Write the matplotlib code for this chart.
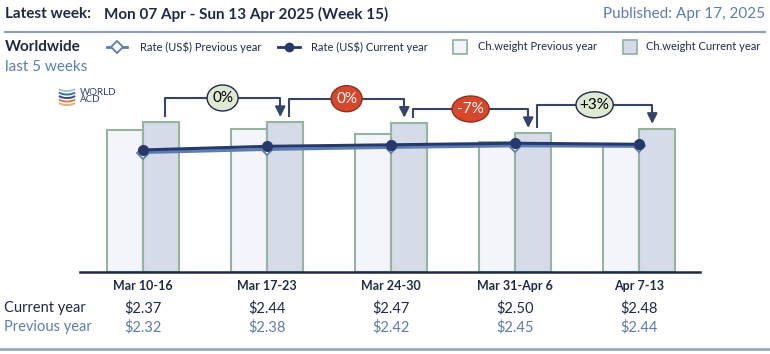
import numpy as np
import matplotlib
matplotlib.use("Agg")
import matplotlib.pyplot as plt
from matplotlib.patches import Rectangle, Arc, Ellipse

plt.rcParams['font.family'] = ['Lato', 'DejaVu Sans']

# --------- Datos ---------

weeks = ["Mar 10-16", "Mar 17-23", "Mar 24-30", "Mar 31-Apr 6", "Apr 7-13"]
rate_current = [2.37, 2.44, 2.47, 2.50, 2.48]
rate_previous = [2.32, 2.38, 2.42, 2.45, 2.44]
# chargeable weight (index)
weight_previous = [142, 143, 138, 130, 128]
weight_current = [150, 150, 149.3, 139, 143.2]
# week on week change of current chargeable weight (%)
wow_change = [0.1, -0.4, -6.6, 3.0]

title_left = "Latest week:"
title_week = "Mon 07 Apr - Sun 13 Apr 2025 (Week 15)"
published = "Published: Apr 17, 2025"

# --------- Colores ---------
navy = "#1f2a48"
lightblue = "#5b7db3"
bar_edge = "#93b5a0"
prev_fill = "#f4f5fa"
cur_fill = "#d5dbe7"
bracket_col = "#33456b"

W, H = 770, 354
fig = plt.figure(figsize=(W / 100, H / 100), dpi=100)

# capa en pixeles para textos y decoracion
over = fig.add_axes([0, 0, 1, 1])
over.set_xlim(0, W)
over.set_ylim(H, 0)
over.axis("off")

over.text(5, 14, title_left, fontsize=11, fontweight="bold", color=navy, va="center")
over.text(104, 14, title_week, fontsize=11, fontweight="bold", color=navy, va="center")
over.text(765, 14, published, fontsize=11, color=lightblue, va="center", ha="right")
over.plot([5, 765], [32, 32], color="#8d9bb3", lw=1.5)
over.plot([0, 770], [349, 349], color="#9aa8c4", lw=2)

over.text(5, 47, "Worldwide", fontsize=11, fontweight="bold", color=navy, va="center")
over.text(5, 67, "last 5 weeks", fontsize=11, color=lightblue, va="center")

# leyenda
lfs = 8
over.plot([107, 127], [47, 47], color=lightblue, lw=2)
over.plot([117], [47], marker="D", ms=6, mfc="white", mec=lightblue, mew=1.3)
over.text(140, 47, "Rate (US$) Previous year", fontsize=lfs, color=navy, va="center")
over.plot([278, 300], [47, 47], color="#26396a", lw=2)
over.plot([289], [47], marker="o", ms=6, color="#26396a")
over.text(311, 47, "Rate (US$) Current year", fontsize=lfs, color=navy, va="center")
over.add_patch(Rectangle((453, 40), 14, 14, fc=prev_fill, ec=bar_edge, lw=1.3))
over.text(478, 47, "Ch.weight Previous year", fontsize=lfs, color=navy, va="center")
over.add_patch(Rectangle((623, 40), 14, 14, fc=cur_fill, ec=bar_edge, lw=1.3))
over.text(646, 47, "Ch.weight Current year", fontsize=lfs, color=navy, va="center")

# logo
for yc, c in zip([90, 93.5, 97, 100.5, 104], ["#a9c2e2", "#3a6fb0", "#2f4f86", "#e07a3a", "#d8b08a"]):
    over.add_patch(Arc((67, yc - 4), 20, 10, theta1=20, theta2=160, color=c, lw=1.4))
over.text(80, 96, "WORLD\nACD", fontsize=7, color="#2f3f6a", va="center", linespacing=0.85)

# --------- Grafico ---------
x = np.arange(len(weeks))
bw = 0.29
ax = fig.add_axes([80 / W, (H - 272) / H, 620 / W, 192 / H])
ax.patch.set_visible(False)
ax.bar(x - bw / 2, weight_previous, width=bw, color=prev_fill, edgecolor=bar_edge, lw=1.5)
ax.bar(x + bw / 2, weight_current, width=bw, color=cur_fill, edgecolor=bar_edge, lw=1.5)
ax.set_xlim(-0.51, 4.49)
ax.set_ylim(0, 192)
for s in ["top", "right", "left"]:
    ax.spines[s].set_visible(False)
ax.spines["bottom"].set_color(navy)
ax.spines["bottom"].set_linewidth(1.8)
ax.set_yticks([])
ax.set_xticks(x)
ax.set_xticklabels(weeks, fontsize=9, fontweight="bold", color=navy)
ax.tick_params(axis="x", length=0, pad=6)

# corchetes de variacion semanal
for i, v in enumerate(wow_change):
    x0 = x[i] + bw / 2 + 0.03
    x1 = x[i + 1] + bw / 2 - 0.04
    top = weight_current[i + 1] + 24
    ax.plot([x0, x0, x1, x1], [weight_current[i] + 5, top, top, weight_current[i + 1] + 14],
            color=bracket_col, lw=1.5, solid_capstyle="butt")
    ax.annotate("", xy=(x1, weight_current[i + 1] + 5), xytext=(x1, weight_current[i + 1] + 15),
                arrowprops=dict(arrowstyle="-|>,head_width=0.3,head_length=0.6",
                                color=bracket_col, lw=1.5, shrinkA=0, shrinkB=0))
    lab = "0%" if round(v) == 0 else f"{v:+.0f}%"
    neg = v < 0
    xm = (x0 + x1) / 2
    ax.add_patch(Ellipse((xm, top), 0.25 + 0.05 * (len(lab) - 2), 26,
                         fc="#d9472b" if neg else "#dde9d2",
                         ec="#8a3020" if neg else navy, lw=1, zorder=3))
    ax.text(xm, top, lab, fontsize=11, ha="center", va="center", zorder=4,
            color="white" if neg else "black")

ax2 = ax.twinx()
ax2.set_ylim(0, 192 / 51.5)
ax2.axis("off")
ax2.plot(x, rate_previous, color=lightblue, lw=2.2, marker="D", ms=6, mfc="white", mec=lightblue, mew=1.3)
ax2.plot(x, rate_current, color="#26396a", lw=2.2, marker="o", ms=7)

# tabla de tarifas
tr = ax.get_xaxis_transform()
ax.text(-0.505 - 77 / 124, -0.1875, "Current year", transform=tr, fontsize=10.5, color=navy, va="center")
ax.text(-0.505 - 77 / 124, -0.286, "Previous year", transform=tr, fontsize=10.5, color=lightblue, va="center")
for i in range(len(weeks)):
    ax.text(x[i], -0.1875, f"${rate_current[i]:.2f}", transform=tr, fontsize=10.5, color=navy, ha="center", va="center")
    ax.text(x[i], -0.286, f"${rate_previous[i]:.2f}", transform=tr, fontsize=10.5, color=lightblue, ha="center", va="center")

fig.savefig("out.png", dpi=100)
